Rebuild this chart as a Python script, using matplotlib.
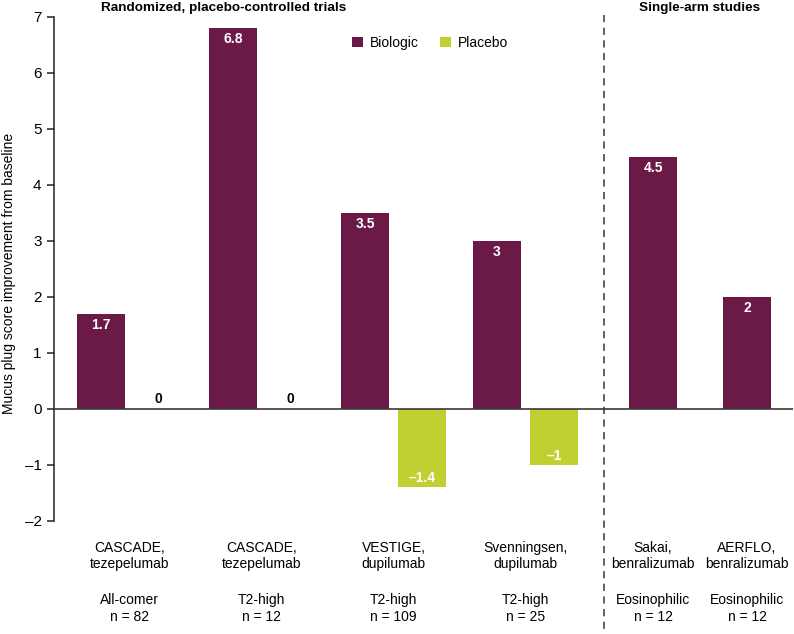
import matplotlib
matplotlib.use("Agg")
import matplotlib.pyplot as plt
from matplotlib.patches import Patch
from matplotlib.lines import Line2D
import matplotlib.transforms as mtransforms

plt.rcParams['font.family'] = ['Liberation Sans', 'DejaVu Sans']

# ---------------- data ----------------
rct_studies = ["CASCADE,\ntezepelumab", "CASCADE,\ntezepelumab",
               "VESTIGE,\ndupilumab", "Svenningsen,\ndupilumab"]
rct_populations = ["All-comer\nn = 82", "T2-high\nn = 12",
                   "T2-high\nn = 109", "T2-high\nn = 25"]
rct_biologic = [1.7, 6.8, 3.5, 3.0]
rct_placebo = [0.0, 0.0, -1.4, -1.0]

single_studies = ["Sakai,\nbenralizumab", "AERFLO,\nbenralizumab"]
single_populations = ["Eosinophilic\nn = 12", "Eosinophilic\nn = 12"]
single_biologic = [4.5, 2.0]

yticks = [-2, -1, 0, 1, 2, 3, 4, 5, 6, 7]
ylabel = "Mucus plug score improvement from baseline"
title_rct = "Randomized, placebo-controlled trials"
title_single = "Single-arm studies"
legend_labels = ["Biologic", "Placebo"]

# ---------------- style ----------------
C_BIO = "#6b1946"
C_PLA = "#c0d032"
W, H = 794, 634
fig = plt.figure(figsize=(W / 100, H / 100), dpi=100)

def fx(px):
    return px / W

def fy(py):
    return 1 - py / H

ax_left, ax_right = 54, 793
y_top, y_bot = 16.5, 521.0
ax = fig.add_axes([fx(ax_left), fy(y_bot), fx(ax_right - ax_left), (y_bot - y_top) / H])

pxu = 132.0  # pixels per group unit
g0 = 129.5
ax.set_xlim((ax_left - g0) / pxu, (ax_right - g0) / pxu)
ax.set_ylim(-2, 7)

off = 57.0 / 2 / pxu
bw = 48.0 / pxu
n_rct = len(rct_biologic)
rct_x = list(range(n_rct))
single_x = [(653 - g0) / pxu, (747 - g0) / pxu]
divider_x = (604 - g0) / pxu

bio_x = [x - off for x in rct_x]
pla_x = [x + off for x in rct_x]

bars_bio = ax.bar(bio_x + single_x, rct_biologic + single_biologic, width=bw, color=C_BIO, zorder=2)
bars_pla = ax.bar(pla_x, rct_placebo, width=bw, color=C_PLA, zorder=2)

def fmt(v):
    s = f"{v:g}"
    return s.replace("-", "\u2013")

lab_fs = 10
for x, v in zip(bio_x + single_x, rct_biologic + single_biologic):
    ax.annotate(fmt(v), (x, v), xytext=(0, -8), textcoords="offset points",
                ha="center", va="center", color="white", fontweight="bold", fontsize=lab_fs)
for x, v in zip(pla_x, rct_placebo):
    if v == 0:
        ax.annotate(fmt(v), (x, v), xytext=(0, 7), textcoords="offset points",
                    ha="center", va="center", color="black", fontweight="bold", fontsize=lab_fs)
    else:
        ax.annotate(fmt(v), (x, v), xytext=(0, 6.5), textcoords="offset points",
                    ha="center", va="center", color="white", fontweight="bold", fontsize=lab_fs)

# axes styling
ax.axhline(0, color="#3a3a3a", lw=1.2, zorder=3)
for s in ["top", "right", "bottom"]:
    ax.spines[s].set_visible(False)
ax.spines["left"].set_color("#222222")
ax.spines["left"].set_linewidth(1.1)
ax.set_xticks([])
ax.set_yticks(yticks)
ax.set_yticklabels([fmt(t) for t in yticks])
ax.tick_params(axis="y", direction="out", length=5, width=1.1, color="#222222",
               labelsize=11, pad=4)
ax.set_ylabel(ylabel, fontsize=10)
ax.yaxis.set_label_coords(-0.052, 0.49)

# category labels
trans = mtransforms.blended_transform_factory(ax.transData, fig.transFigure)
cat_fs = 10
for x, s, p in zip(rct_x + single_x, rct_studies + single_studies,
                   rct_populations + single_populations):
    ax.text(x, fy(556), s, transform=trans, ha="center", va="center",
            fontsize=cat_fs, linespacing=1.25, clip_on=False)
    ax.text(x, fy(608.5), p, transform=trans, ha="center", va="center",
            fontsize=cat_fs, linespacing=1.25, clip_on=False)

# divider
ax.add_line(Line2D([divider_x, divider_x], [fy(15), fy(632)], transform=trans,
                   color="#555555", lw=1.3, ls=(0, (4, 3)), clip_on=False))

# titles
fig.text(fx(224), fy(8), title_rct, ha="center", va="center", fontsize=9.7, fontweight="bold")
fig.text(fx(700), fy(8), title_single, ha="center", va="center", fontsize=9.7, fontweight="bold")

# legend
handles = [Patch(facecolor=C_BIO, edgecolor="none"), Patch(facecolor=C_PLA, edgecolor="none")]
fig.legend(handles, legend_labels, loc="center", bbox_to_anchor=(fx(430), fy(43)), ncol=2,
           frameon=False, fontsize=10, handlelength=0.8, handleheight=0.8,
           handletextpad=0.5, columnspacing=1.5)

fig.savefig("out.png", dpi=100)
